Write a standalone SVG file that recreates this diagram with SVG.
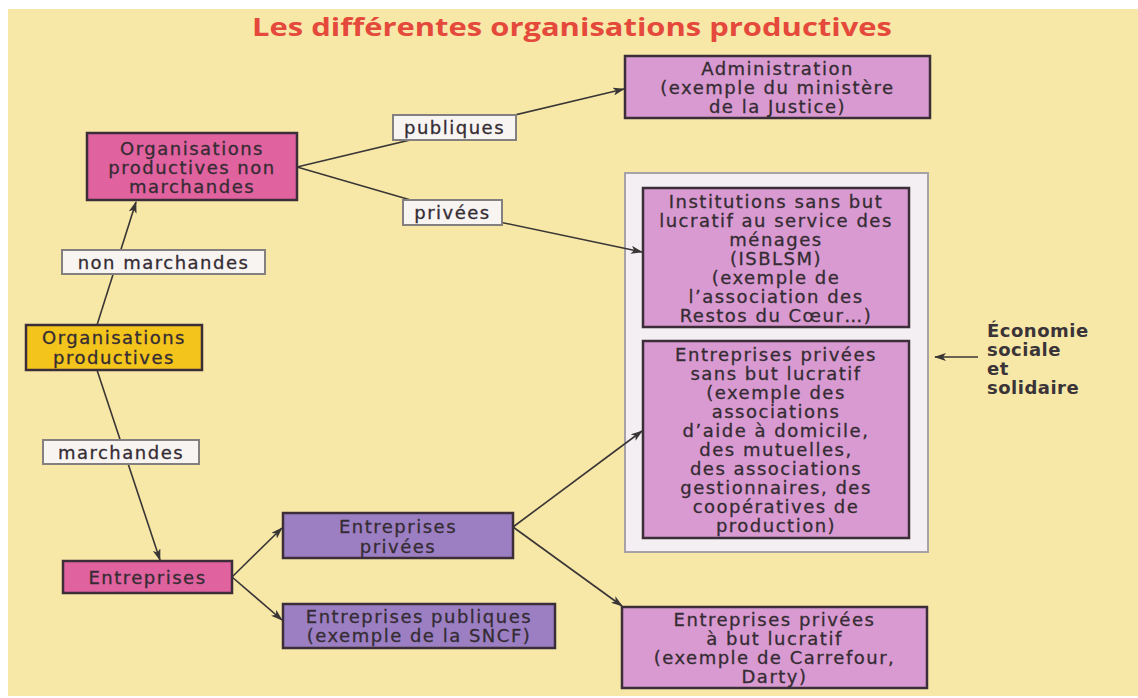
<svg xmlns="http://www.w3.org/2000/svg" width="1138" height="698" viewBox="0 0 1138 698">
<style>
.bg{fill:#f7e8a8}
.box{stroke:#3b2e38;stroke-width:2.5}
.pink{fill:#e0629f}
.yellow{fill:#f3c41c}
.purple{fill:#9c7fc3}
.orchid{fill:#d89ad0}
.lab{fill:#f7f4f2;stroke:#858080;stroke-width:2}
.ess{fill:#f3eff2;stroke:#a8a2a8;stroke-width:2}
.t{font-family:"DejaVu Sans",sans-serif;font-size:18px;fill:#352c33;stroke:#352c33;stroke-width:0.3;text-anchor:middle;dominant-baseline:central;letter-spacing:1.5px}
.side{font-family:"DejaVu Sans",sans-serif;font-size:18px;font-weight:bold;fill:#3a3438;dominant-baseline:central;letter-spacing:0.5px}
.title{font-family:"Open Sans","Liberation Sans",sans-serif;font-size:25px;font-weight:bold;fill:#e4493b}
.c{fill:none;stroke:#3a3636;stroke-width:1.6}
</style>
<defs>
<marker id="ah" viewBox="0 0 12 8" refX="11" refY="4" markerWidth="12" markerHeight="8" markerUnits="userSpaceOnUse" orient="auto">
<path d="M0,0 L12,4 L0,8 L3,4 Z" fill="#3a3636"/>
</marker>
</defs>
<rect x="0" y="0" width="1138" height="698" fill="#ffffff"/>
<rect class="bg" x="8" y="9" width="1130" height="687"/>
<text class="title" x="252" y="36" textLength="640" lengthAdjust="spacingAndGlyphs">Les différentes organisations productives</text>

<g id="ess-frame"><rect class="ess" x="625" y="173" width="303" height="379"/></g>

<g id="connectors">
<path class="c" d="M97,325 L136,202" marker-end="url(#ah)"/>
<path class="c" d="M97,370 L160,560" marker-end="url(#ah)"/>
<path class="c" d="M297,167 L624,89" marker-end="url(#ah)"/>
<path class="c" d="M297,167 L452,212 L642,252" marker-end="url(#ah)"/>
<path class="c" d="M232,577 L282,528" marker-end="url(#ah)"/>
<path class="c" d="M232,577 L282,620" marker-end="url(#ah)"/>
<path class="c" d="M513,527 L642,431" marker-end="url(#ah)"/>
<path class="c" d="M513,527 L622,606" marker-end="url(#ah)"/>
<path class="c" d="M978,357 L935,357" marker-end="url(#ah)"/>
</g>

<g id="lab-publiques"><rect class="lab" x="393" y="115" width="123" height="25"/><text class="t" x="454.5" y="127.5">publiques</text></g>
<g id="lab-privees"><rect class="lab" x="403" y="200" width="99" height="25"/><text class="t" x="452.5" y="212.5">privées</text></g>
<g id="lab-nonmarchandes"><rect class="lab" x="62" y="250" width="203" height="24"/><text class="t" x="163.5" y="262">non marchandes</text></g>
<g id="lab-marchandes"><rect class="lab" x="43" y="440" width="156" height="24"/><text class="t" x="121" y="452">marchandes</text></g>

<g id="n-org"><rect class="box yellow" x="26" y="325" width="176" height="45"/><text class="t" x="114" y="337">Organisations</text><text class="t" x="114" y="357">productives</text></g>
<g id="n-onm"><rect class="box pink" x="87" y="133" width="210" height="67"/><text class="t" x="192" y="148">Organisations</text><text class="t" x="192" y="167">productives non</text><text class="t" x="192" y="186">marchandes</text></g>
<g id="n-ent"><rect class="box pink" x="63" y="561" width="169" height="32"/><text class="t" x="147.5" y="577">Entreprises</text></g>
<g id="n-entpriv"><rect class="box purple" x="283" y="513" width="230" height="45"/><text class="t" x="398" y="526">Entreprises</text><text class="t" x="398" y="546">privées</text></g>
<g id="n-entpub"><rect class="box purple" x="283" y="604" width="272" height="44"/><text class="t" x="419" y="616.5">Entreprises publiques</text><text class="t" x="419" y="635.5">(exemple de la SNCF)</text></g>
<g id="n-admin"><rect class="box orchid" x="625" y="56" width="305" height="62"/><text class="t" x="777.5" y="68.5">Administration</text><text class="t" x="777.5" y="87.5">(exemple du ministère</text><text class="t" x="777.5" y="106.5">de la Justice)</text></g>
<g id="n-isblsm"><rect class="box orchid" x="643" y="188" width="266" height="139"/>
<text class="t" x="776" y="201">Institutions sans but</text>
<text class="t" x="776" y="220">lucratif au service des</text>
<text class="t" x="776" y="239">ménages</text>
<text class="t" x="776" y="258">(ISBLSM)</text>
<text class="t" x="776" y="277">(exemple de</text>
<text class="t" x="776" y="296">l’association  des</text>
<text class="t" x="776" y="315">Restos du Cœur…)</text></g>
<g id="n-esbl"><rect class="box orchid" x="643" y="341" width="266" height="197"/>
<text class="t" x="776" y="354.5">Entreprises privées</text>
<text class="t" x="776" y="373.5">sans but lucratif</text>
<text class="t" x="776" y="392.5">(exemple des</text>
<text class="t" x="776" y="411.5">associations</text>
<text class="t" x="776" y="430.5">d’aide à domicile,</text>
<text class="t" x="776" y="449.5">des mutuelles,</text>
<text class="t" x="776" y="468.5">des associations</text>
<text class="t" x="776" y="487.5">gestionnaires, des</text>
<text class="t" x="776" y="506.5">coopératives de</text>
<text class="t" x="776" y="525.5">production)</text></g>
<g id="n-ebl"><rect class="box orchid" x="622" y="607" width="305" height="81"/>
<text class="t" x="774.5" y="619">Entreprises privées</text>
<text class="t" x="774.5" y="638">à but lucratif</text>
<text class="t" x="774.5" y="657">(exemple de Carrefour,</text>
<text class="t" x="774.5" y="676">Darty)</text></g>
<g id="n-ess-label">
<text class="side" x="987" y="330">Économie</text>
<text class="side" x="987" y="349">sociale</text>
<text class="side" x="987" y="368">et</text>
<text class="side" x="987" y="387">solidaire</text></g>
</svg>
